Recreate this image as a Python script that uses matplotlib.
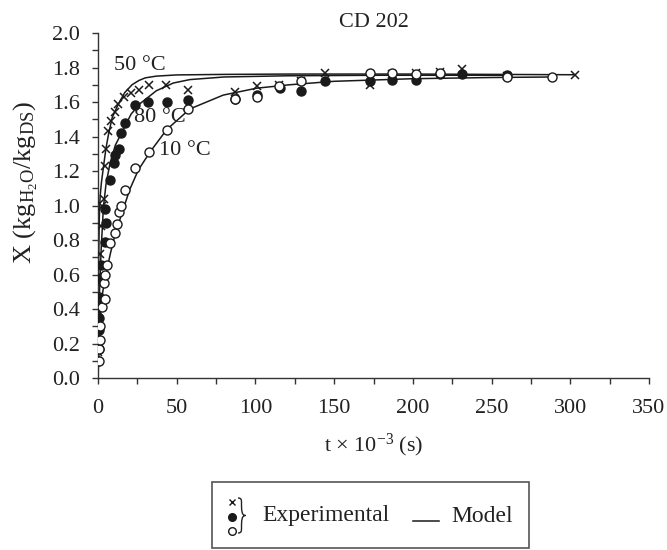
import matplotlib
matplotlib.use("Agg")
import matplotlib.pyplot as plt
from matplotlib.patches import Rectangle, PathPatch
from matplotlib.path import Path
from matplotlib.lines import Line2D

plt.rcParams['font.family'] = ['Liberation Serif', 'DejaVu Serif']
plt.rcParams['mathtext.fontset'] = 'custom'
plt.rcParams['mathtext.rm'] = 'Liberation Serif'
plt.rcParams['mathtext.it'] = 'Liberation Serif:italic'

# ---- data (t x 10^-3 s, X kg/kg) ----
t50 = [0.2, 0.4, 0.6, 0.9, 1.3, 1.8, 2.6, 3.6, 4.4, 5.1, 6.3, 8.4, 10.6, 12.7, 16.3, 21.2, 25.8,
       32.6, 43, 57, 87, 101, 115, 129, 144, 173, 187, 202, 217, 231, 260, 303]
X50 = [0.15, 0.25, 0.38, 0.55, 0.72, 0.88, 1.00, 1.04, 1.23, 1.33, 1.43, 1.49, 1.54, 1.59, 1.63,
       1.655, 1.67, 1.70, 1.70, 1.67, 1.66, 1.69, 1.70, 1.72, 1.766, 1.70, 1.76, 1.77, 1.775,
       1.79, 1.75, 1.756]

t80 = [0.0, 0.3, 0.4, 0.5, 0.7, 0.8, 1.5, 2.1, 4.2, 5.1, 4.7, 7.8, 10, 11, 13.1, 14.8, 17.3,
       23.7, 31.7, 43.8, 57.3, 87, 101, 115.5, 129, 144, 173, 187, 202, 217, 231, 260]
X80 = [0.10, 0.17, 0.28, 0.35, 0.43, 0.47, 0.58, 0.655, 0.79, 0.90, 0.98, 1.15, 1.245, 1.29,
       1.33, 1.42, 1.48, 1.58, 1.60, 1.60, 1.61, 1.62, 1.64, 1.68, 1.666, 1.72, 1.72, 1.73,
       1.73, 1.76, 1.765, 1.756]

t10 = [0.3, 0.6, 1.0, 1.5, 2.5, 4.2, 3.6, 4.7, 5.7, 7.8, 10.6, 12, 13.1, 14.8, 17.3, 23.7,
       32.1, 43.8, 57.3, 87, 101, 115, 129, 173, 187, 202, 217, 260, 288.5]
X10 = [0.10, 0.17, 0.22, 0.30, 0.41, 0.46, 0.55, 0.60, 0.655, 0.78, 0.84, 0.89, 0.965, 1.00,
       1.09, 1.215, 1.31, 1.44, 1.56, 1.62, 1.63, 1.69, 1.72, 1.77, 1.766, 1.76, 1.77, 1.745,
       1.743]

# model curves
m50_t = [0, 0.1, 0.3, 0.5, 0.8, 1.3, 2.1, 3.6, 5, 6.8, 9, 13, 17, 21.6, 26, 30, 37, 50, 80,
         122, 200, 303]
m50_X = [0, 0.25, 0.55, 0.75, 0.93, 1.05, 1.13, 1.235, 1.33, 1.42, 1.51, 1.59, 1.655, 1.70,
         1.725, 1.74, 1.75, 1.757, 1.76, 1.762, 1.762, 1.758]

m80_t = [0, 0.2, 0.5, 1, 2, 3.4, 5, 7.6, 11, 16, 21, 26.6, 37, 47.8, 58.4, 80, 120, 180, 260]
m80_X = [0, 0.2, 0.35, 0.52, 0.75, 0.99, 1.12, 1.245, 1.35, 1.44, 1.53, 1.59, 1.665, 1.71,
         1.73, 1.745, 1.752, 1.755, 1.755]

m10_t = [0, 0.5, 1.5, 3, 4.7, 7.8, 11, 15.2, 20, 25.6, 33, 43.6, 58.4, 79.5, 100.7, 121.8,
         150, 200, 250, 288.5]
m10_X = [0, 0.15, 0.355, 0.5, 0.59, 0.72, 0.84, 0.955, 1.09, 1.206, 1.31, 1.44, 1.56, 1.64,
         1.68, 1.70, 1.72, 1.735, 1.742, 1.745]

labels = ["50 °C", "80 °C", "10 °C"]
label_pos = [(26.5, 1.81), (39, 1.51), (55, 1.32)]

fig = plt.figure(figsize=(6.67, 5.5), dpi=100)
ax = fig.add_axes([0.147, 0.3127, 0.826, 0.6273])

ink = '#1a1a1a'
lw = 1.1
ax.plot(m50_t, m50_X, color=ink, lw=lw, zorder=2)
ax.plot(m80_t, m80_X, color=ink, lw=lw, zorder=2)
ax.plot(m10_t, m10_X, color=ink, lw=lw, zorder=2)

ax.plot(t50, X50, linestyle='none', marker='x', ms=5.5, mew=1.1, color=ink, zorder=3)
ax.plot(t80, X80, linestyle='none', marker='o', ms=6.5, mfc=ink, mec=ink, zorder=4)
ax.plot(t10, X10, linestyle='none', marker='o', ms=6.5, mfc='white', mec=ink, mew=1.0,
        zorder=5)

for lab, (x, y) in zip(labels, label_pos):
    ax.text(x, y, lab, fontsize=16, ha='center', va='center', color='#222222', zorder=6)

ax.set_xlim(0, 350)
ax.set_ylim(0, 2.0)
ax.set_xticks(range(0, 351, 50))
ax.set_xticks(range(0, 351, 25), minor=True)
ax.set_yticks([i / 10 for i in range(0, 21, 2)])
ax.set_yticks([i / 10 for i in range(0, 21)], minor=True)
ax.set_yticklabels([f"{i / 10:.1f}" for i in range(0, 21, 2)])
for s in ['top', 'right']:
    ax.spines[s].set_visible(False)
for s in ['left', 'bottom']:
    ax.spines[s].set_color('#333333')
    ax.spines[s].set_linewidth(1.0)
ax.tick_params(which='both', direction='out', length=4, color='#333333', width=1.0,
               labelsize=16, labelcolor='#222222')
ax.tick_params(axis='x', pad=11)
ax.tick_params(axis='y', pad=9)

ax.set_title("CD 202", fontsize=16, color='#222222', pad=4)
ax.set_xlabel(r"t $\times$ 10$^{-3}$ (s)", fontsize=16, color='#222222', labelpad=10)

W, H = 667, 550
fig.text(12 / W, 1 - 182 / H, r"X (kg$_{\mathrm{H_2O}}$/kg$_{\mathrm{DS}}$)", fontsize=19,
         rotation=90, ha='left', va='center', color='#222222')

# custom legend box
lax = fig.add_axes([0, 0, 1, 1], zorder=10)
lax.set_xlim(0, W)
lax.set_ylim(H, 0)
lax.axis('off')
lax.add_patch(Rectangle((212, 482), 317, 66, fill=False, edgecolor='#555555', lw=1.2))
lax.plot([231.5], [501.5], marker='x', ms=5, mew=1.0, color=ink, linestyle='none')
lax.plot([231.5], [516.5], marker='o', ms=5.5, mfc=ink, mec=ink, linestyle='none')
lax.plot([231.5], [530.5], marker='o', ms=5.5, mfc='white', mec=ink, mew=1.0, linestyle='none')
brace = Path([(238, 498), (241.5, 498), (241.5, 500), (241.5, 503),
              (241.5, 510), (241.5, 515.5), (245.5, 515.5),
              (241.5, 515.5), (241.5, 521), (241.5, 528),
              (241.5, 531), (241.5, 533), (238, 533)],
             [Path.MOVETO, Path.CURVE4, Path.CURVE4, Path.CURVE4,
              Path.CURVE4, Path.CURVE4, Path.CURVE4,
              Path.CURVE4, Path.CURVE4, Path.CURVE4,
              Path.CURVE4, Path.CURVE4, Path.CURVE4])
lax.add_patch(PathPatch(brace, fill=False, edgecolor='#222222', lw=1.0))
lax.text(262, 516, "Experimental", fontsize=17, ha='left', va='center', color='#222222')
lax.add_line(Line2D([413, 439], [521, 521], color=ink, lw=1.1))
lax.text(451, 516, "Model", fontsize=17, ha='left', va='center', color='#222222')

fig.savefig("out.png", dpi=100)
